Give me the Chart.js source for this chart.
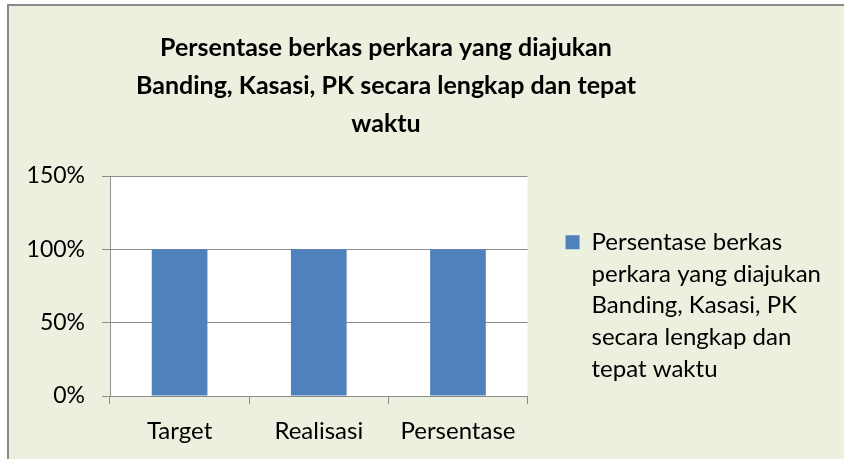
<!DOCTYPE html>
<html lang="id">

<head>
  <meta charset="UTF-8">
  <title>Persentase berkas perkara</title>
  <script src="https://cdn.jsdelivr.net/npm/chart.js"></script>
  <style>
    html, body { margin: 0; padding: 0; background: #fff; }
    body { width: 844px; height: 459px; position: relative; overflow: hidden; }
    .frame {
      position: absolute; left: 7px; top: 4px; right: 0; bottom: 0;
      background: #EBF1DE;
      border-left: 2px solid #8a8a8a;
      border-top: 2px solid #8a8a8a;
    }
    .chart-box { position: absolute; left: 0; top: 0; width: 844px; height: 459px; }
  </style>
</head>

<body>
  <div class="frame"></div>
  <div class="chart-box">
    <canvas id="bandingChart" width="844" height="459"></canvas>
  </div>

  <script>
    // Data
    const categories = ['Target', 'Realisasi', 'Persentase'];
    const values = [1, 1, 1]; // 100% each
    const yTicks = [0, 0.5, 1, 1.5];
    const titleLines = [
      'Persentase berkas perkara yang diajukan',
      'Banding, Kasasi, PK secara lengkap dan tepat',
      'waktu'
    ];
    const legendLines = [
      'Persentase berkas',
      'perkara yang diajukan',
      'Banding, Kasasi, PK',
      'secara lengkap dan',
      'tepat waktu'
    ];

    const barColor = '#4F81BD';
    const gridColor = '#8C8C8C';
    const fontFamily = 'Lato, "Open Sans", sans-serif';

    // white plot area; title and legend nudged to where the original has them
    const plotArea = {
      id: 'plotArea',
      afterLayout(chart) {
        if (chart.titleBlock) {
          chart.titleBlock.left = 0;
          chart.titleBlock.right = 772;
        }
        if (chart.legend) {
          chart.legend.top = 160;
          chart.legend.bottom = 459;
        }
      },
      beforeDraw(chart) {
        const { ctx, chartArea } = chart;
        ctx.save();
        ctx.fillStyle = '#ffffff';
        ctx.fillRect(chartArea.left, chartArea.top, chartArea.right - chartArea.left, chartArea.bottom - chartArea.top);
        ctx.restore();
      }
    };

    const ctx = document.getElementById('bandingChart').getContext('2d');
    const bandingChart = new Chart(ctx, {
      type: 'bar',
      data: {
        labels: categories,
        datasets: [{
          label: legendLines.join(' '),
          data: values,
          backgroundColor: barColor,
          borderWidth: 0,
          categoryPercentage: 1,
          barPercentage: 0.4
        }]
      },
      options: {
        responsive: false,
        animation: false,
        layout: {
          padding: { left: 0, right: 13, top: 0, bottom: 0 }
        },
        plugins: {
          title: {
            display: true,
            text: titleLines,
            color: '#000',
            font: { family: fontFamily, size: 25, weight: 'bold', lineHeight: 38 / 25 },
            padding: { top: 29, bottom: 33 }
          },
          legend: {
            display: true,
            position: 'right',
            align: 'center',
            maxWidth: 400,
            labels: {
              color: '#000',
              font: { family: fontFamily, size: 24, lineHeight: 31.7 / 24 },
              boxWidth: 14,
              boxHeight: 14,
              padding: 38,
              generateLabels: () => [{
                text: legendLines,
                fillStyle: barColor,
                strokeStyle: barColor,
                lineWidth: 0,
                hidden: false,
                datasetIndex: 0
              }]
            }
          },
          tooltip: { enabled: false }
        },
        scales: {
          x: {
            offset: true,
            grid: { display: true, drawOnChartArea: false, drawTicks: true, tickLength: 8, color: gridColor },
            border: { display: true, color: gridColor },
            ticks: { color: '#000', font: { family: fontFamily, size: 24 }, padding: 13 },
            afterFit: (scale) => { scale.height = 63; }
          },
          y: {
            min: 0,
            max: 1.5,
            afterBuildTicks: (scale) => { scale.ticks = yTicks.map(v => ({ value: v })); },
            grid: { color: gridColor, tickLength: 8 },
            border: { display: true, color: gridColor },
            ticks: {
              color: '#000',
              font: { family: fontFamily, size: 23 },
              padding: 17,
              callback: (value) => `${Math.round(value * 100)}%`
            },
            afterFit: (scale) => { scale.width = 110; }
          }
        }
      },
      plugins: [plotArea]
    });
  </script>
</body>

</html>
